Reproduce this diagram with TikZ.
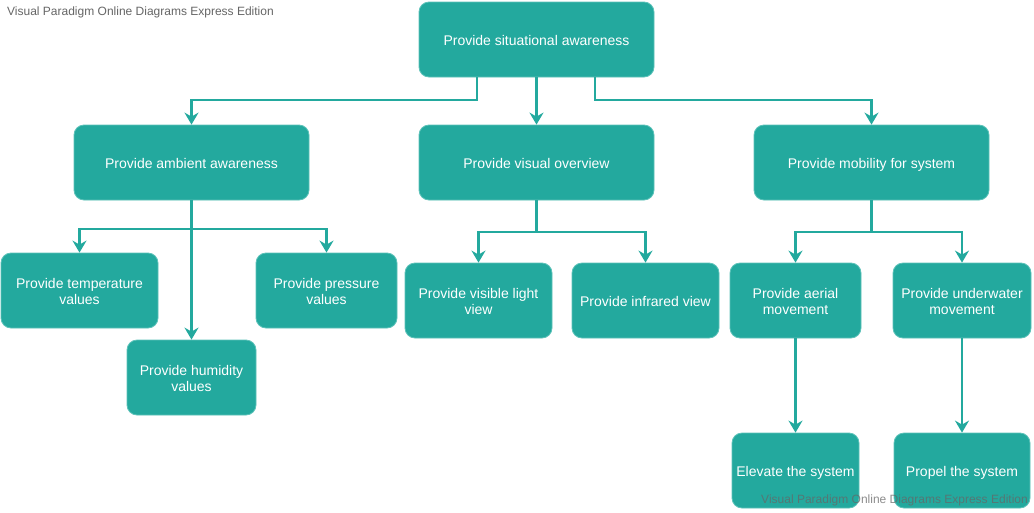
\documentclass[tikz,border=0pt]{standalone}
\usepackage{fontspec}
\setmainfont{Liberation Sans}
\usetikzlibrary{arrows.meta}
\definecolor{teal1}{HTML}{23A99E}
\definecolor{teal2}{HTML}{5CC2B9}
\definecolor{wm}{HTML}{666666}
\newcommand{\twolines}[2]{\begin{tabular}{@{}c@{}}\rule{0pt}{15.8pt}#1\\#2\end{tabular}}
\tikzset{
  box/.style={rectangle, rounded corners=10pt, fill=teal1, draw=teal2, line width=0.8pt,
    text=white, align=center, font=\fontsize{14}{16}\selectfont, minimum height=75pt, inner sep=2pt,
    execute at begin node={\rule{0pt}{15pt}}, execute at end node={\rule[-3.5pt]{0pt}{3.5pt}}},
  twoline/.style={execute at begin node={}, execute at end node={}},
  conn/.style={draw=teal1, line width=2.7pt, -{Stealth[length=12pt,width=14pt,inset=4pt]}},
  wmark/.style={text=wm, font=\fontsize{12}{14}\selectfont, inner sep=0pt}
}
\begin{document}
\begin{tikzpicture}[x=1pt,y=-1pt]
\useasboundingbox (0,0) rectangle (1034,512);
\fill[white] (0,0) rectangle (1034,512);
\node[wmark, anchor=west] (wm1) at (7,12) {Visual Paradigm Online Diagrams Express Edition};

\node[box, minimum width=235pt] (top) at (536.5,39.5) {Provide situational awareness};
\node[box, minimum width=235pt] (amb) at (191.5,162.5) {Provide ambient awareness};
\node[box, minimum width=235pt] (vis) at (536.5,162.5) {Provide visual overview};
\node[box, minimum width=235pt] (mob) at (871.5,162.5) {Provide mobility for system};
\node[box, twoline, minimum width=157pt] (temp) at (79.5,290.5) {\twolines{Provide temperature}{values}};
\node[box, twoline, minimum width=141pt] (pres) at (326.5,290.5) {\twolines{Provide pressure}{values}};
\node[box, twoline, minimum width=129pt] (hum) at (191.5,377.5) {\twolines{Provide humidity}{values}};
\node[box, twoline, minimum width=147pt] (vl) at (478.5,300.5) {\twolines{Provide visible light}{view}};
\node[box, minimum width=147pt] (ir) at (645.5,300.5) {Provide infrared view};
\node[box, twoline, minimum width=131pt] (aer) at (795.5,300.5) {\twolines{Provide aerial}{movement}};
\node[box, twoline, minimum width=138pt] (uw) at (962,300.5) {\twolines{Provide underwater}{movement}};
\node[box, minimum width=127pt] (elev) at (795.5,470.5) {Elevate the system};
\node[box, minimum width=136pt] (prop) at (962,470.5) {Propel the system};

\draw[conn] ([xshift=-59.5pt]top.south) |- (191.5,100) -- (amb.north);
\draw[conn] (top.south) -- (vis.north);
\draw[conn] ([xshift=58.5pt]top.south) |- (871.5,100) -- (mob.north);

\draw[conn] (amb.south) |- (79.5,229) -- (temp.north);
\draw[conn] (amb.south) |- (326.5,229) -- (pres.north);
\draw[conn] (amb.south) -- (hum.north);

\draw[conn] (vis.south) |- (478.5,232) -- (vl.north);
\draw[conn] (vis.south) |- (645.5,232) -- (ir.north);

\draw[conn] (mob.south) |- (795.5,232) -- (aer.north);
\draw[conn] (mob.south) |- (962,232) -- (uw.north);

\draw[conn] (aer.south) -- (elev.north);
\draw[conn] (uw.south) -- (prop.north);

\node[wmark, anchor=east, text opacity=0.75] (wm2) at (1028,500) {Visual Paradigm Online Diagrams Express Edition};
\end{tikzpicture}
\end{document}
